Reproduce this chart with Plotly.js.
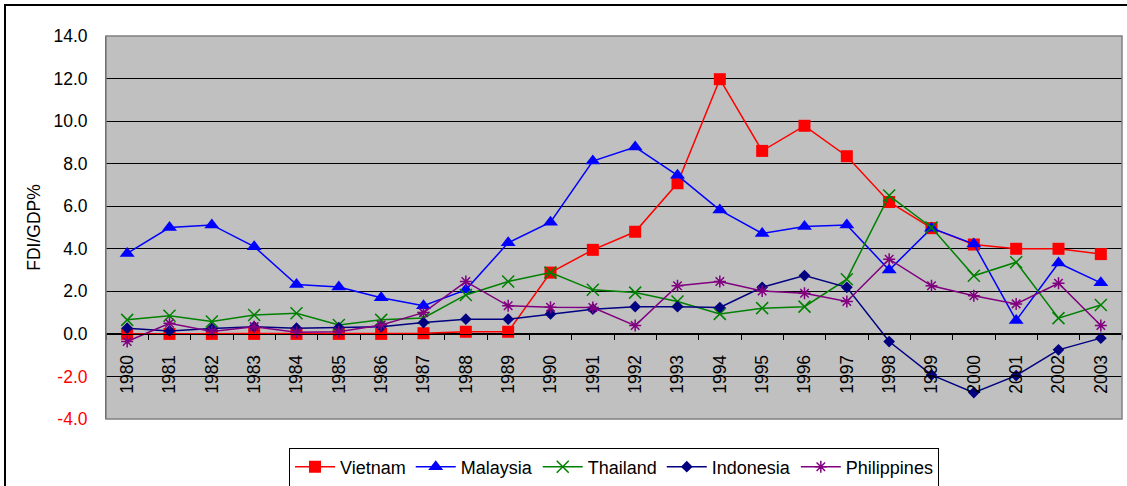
<!DOCTYPE html>
<html>
<head>
<meta charset="utf-8">
<script src="https://cdn.plot.ly/plotly-3.0.1.min.js"></script>
<style>html,body{margin:0;padding:0;background:#fff;}#chart{width:1127px;height:486px;}</style>
</head>
<body>
<div id="chart"></div>
<script>
var years = ["1980","1981","1982","1983","1984","1985","1986","1987","1988","1989","1990","1991","1992","1993","1994","1995","1996","1997","1998","1999","2000","2001","2002","2003"];
var vietnam =     [0.0, 0.0, 0.0, 0.0, 0.0, 0.0, 0.0, 0.03, 0.1, 0.1, 2.88, 3.95, 4.8, 7.08, 11.97, 8.6, 9.78, 8.35, 6.2, 4.97, 4.2, 4.0, 4.0, 3.75];
var malaysia =    [3.78, 5.0, 5.12, 4.1, 2.32, 2.2, 1.7, 1.32, 2.07, 4.28, 5.25, 8.12, 8.78, 7.45, 5.82, 4.72, 5.05, 5.12, 3.0, 4.97, 4.22, 0.63, 3.33, 2.4];
var thailand =    [0.66, 0.85, 0.58, 0.89, 0.97, 0.42, 0.66, 0.75, 1.83, 2.46, 2.88, 2.07, 1.94, 1.52, 0.94, 1.21, 1.28, 2.57, 6.5, 5.0, 2.73, 3.37, 0.74, 1.36];
var indonesia =   [0.27, 0.14, 0.25, 0.34, 0.27, 0.3, 0.34, 0.53, 0.69, 0.69, 0.94, 1.16, 1.28, 1.28, 1.24, 2.19, 2.74, 2.19, -0.36, -1.93, -2.76, -1.96, -0.75, -0.2];
var philippines = [-0.36, 0.5, 0.11, 0.34, 0.08, 0.1, 0.42, 1.0, 2.46, 1.32, 1.25, 1.24, 0.39, 2.26, 2.46, 2.02, 1.91, 1.52, 3.51, 2.26, 1.79, 1.41, 2.38, 0.39];
var yTickVals = [-4, -2, 0, 2, 4, 6, 8, 10, 12, 14];
var yTickText = ['<span style="color:#FF0000">-4.0</span>', '<span style="color:#FF0000">-2.0</span>', "0.0", "2.0", "4.0", "6.0", "8.0", "10.0", "12.0", "14.0"];

var FONT = "Liberation Sans, Arial, sans-serif";
var FS = 17.5;

function tr(name, y, color, symbol, size, open) {
  var m = {symbol: symbol, size: size, color: color};
  if (open) { m.line = {color: color, width: 1.5}; }
  return {
    type: "scatter", mode: "lines+markers", name: name,
    x: years, y: y,
    line: {color: color, width: 1.5},
    marker: m
  };
}

var data = [
  tr("Vietnam", vietnam, "#FF0000", "square", 12, false),
  tr("Malaysia", malaysia, "#0000FF", "triangle-up", 13, false),
  tr("Thailand", thailand, "#008000", "x-thin-open", 12, true),
  tr("Indonesia", indonesia, "#000080", "diamond", 9, false),
  tr("Philippines", philippines, "#800080", "asterisk-open", 10, true)
];

var layout = {
  width: 1127, height: 486,
  margin: {l: 106, r: 5, t: 36, b: 67, autoexpand: false},
  paper_bgcolor: "#FFFFFF",
  plot_bgcolor: "#C0C0C0",
  font: {family: FONT, size: FS, color: "#000000"},
  showlegend: true,
  legend: {
    orientation: "h", x: 0.5, xanchor: "center",
    yref: "container", y: 1 - 467 / 486, yanchor: "middle",
    bordercolor: "#000000", borderwidth: 1, bgcolor: "#FFFFFF",
    font: {family: FONT, size: 18, color: "#000000"},
    itemwidth: 40,
    traceorder: "normal"
  },
  xaxis: {
    type: "category",
    range: [-0.5, 23.5],
    anchor: "free", position: 4 / 18,
    showline: true, linecolor: "#000000", linewidth: 1,
    showgrid: false, zeroline: false,
    ticks: "outside", tickson: "boundaries", ticklen: 5, tickcolor: "#000000",
    tickangle: -90,
    ticklabelstandoff: 13,
    tickfont: {family: FONT, size: FS, color: "#000000"}
  },
  yaxis: {
    range: [-4, 14],
    tickvals: yTickVals, ticktext: yTickText,
    showgrid: true, gridcolor: "#000000", gridwidth: 1,
    zeroline: false,
    showline: true, linecolor: "#404040", linewidth: 1,
    ticks: "", ticklabelstandoff: 14,
    tickfont: {family: FONT, size: FS, color: "#000000"},
    title: {text: "FDI/GDP%", font: {family: FONT, size: FS, color: "#000000"}, standoff: 8}
  },
  shapes: [
    {type: "rect", xref: "paper", yref: "paper", x0: 0, x1: 1, y0: 0, y1: 1,
     line: {color: "#808080", width: 1.5}, layer: "above"},
    {type: "rect", xref: "paper", yref: "paper",
     x0: (5 - 106) / 1016, x1: (1135 - 106) / 1016,
     y0: (419 - 495) / 383, y1: (419 - 5) / 383,
     line: {color: "#000000", width: 2}, layer: "above"}
  ]
};

Plotly.newPlot("chart", data, layout, {displayModeBar: false, staticPlot: true});
</script>
</body>
</html>
